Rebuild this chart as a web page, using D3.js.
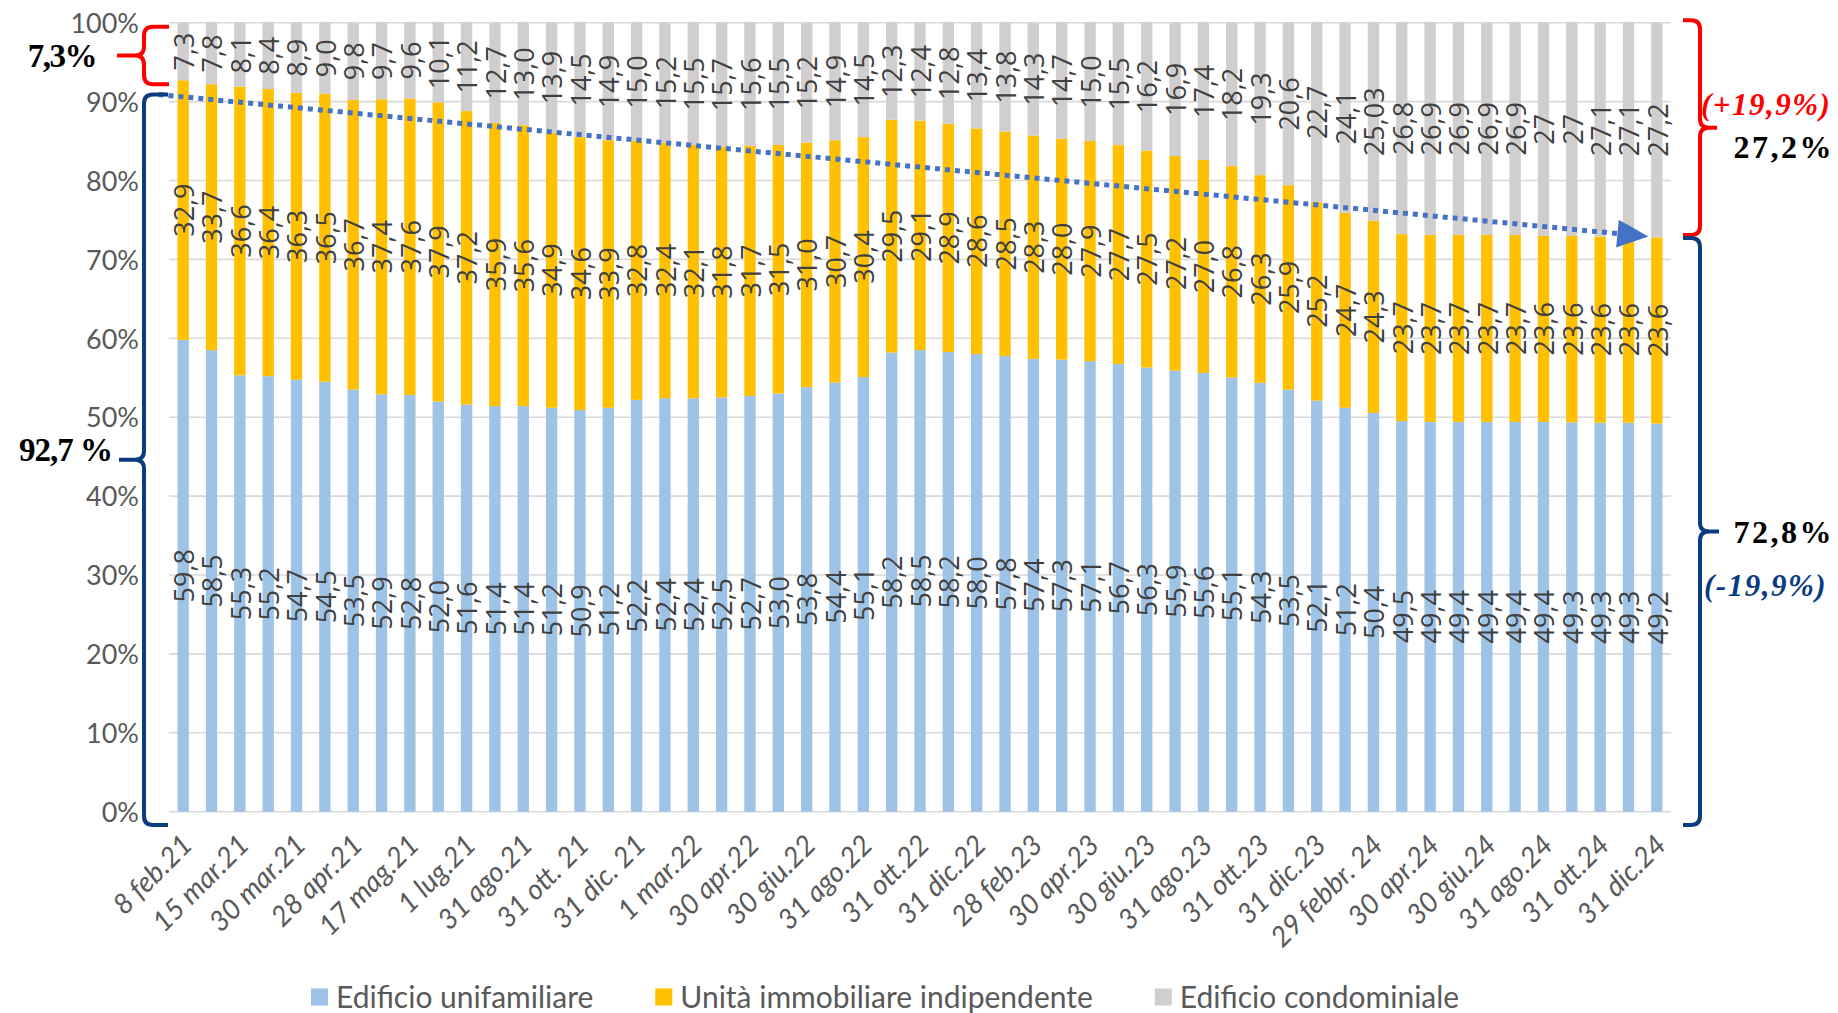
<!DOCTYPE html>
<html>
<head>
<meta charset="utf-8">
<script src="https://cdn.jsdelivr.net/npm/d3@7"></script>
<style>
  html, body { margin: 0; padding: 0; background: #fff; overflow: hidden; }
  svg { display: block; }
</style>
</head>
<body>
<svg id="chart" width="1838" height="1013"></svg>
<script>
// ---------------- DATA ----------------
const seriesNames = ["Edificio unifamiliare", "Unità immobiliare indipendente", "Edificio condominiale"];
const seriesColors = ["#9DC3E6", "#FFC000", "#D0CECE"];

// x-axis labels (one every two observations)
const tickLabels = ["8 feb.21","15 mar.21","30 mar.21","28 apr.21","17 mag.21","1 lug.21","31 ago.21",
  "31 ott. 21","31 dic. 21","1 mar.22","30 apr.22","30 giu.22","31 ago.22","31 ott.22","31 dic.22",
  "28 feb.23","30 apr.23","30 giu.23","31 ago.23","31 ott.23","31 dic.23","29 febbr. 24","30 apr.24",
  "30 giu.24","31 ago.24","31 ott.24","31 dic.24"];

const unifamiliare = [59.8,58.5,55.3,55.2,54.7,54.5,53.5,52.9,52.8,52.0,51.6,51.4,51.4,51.2,50.9,51.2,
  52.2,52.4,52.4,52.5,52.7,53.0,53.8,54.4,55.1,58.2,58.5,58.2,58.0,57.8,57.4,57.3,57.1,56.7,56.3,55.9,55.6,
  55.1,54.3,53.5,52.1,51.2,50.4,49.5,49.4,49.4,49.4,49.4,49.4,49.3,49.3,49.3,49.2];

const indipendente = [32.9,33.7,36.6,36.4,36.3,36.5,36.7,37.4,37.6,37.9,37.2,35.9,35.6,34.9,34.6,33.9,
  32.8,32.4,32.1,31.8,31.7,31.5,31.0,30.7,30.4,29.5,29.1,28.9,28.6,28.5,28.3,28.0,27.9,27.7,27.5,27.2,27.0,
  26.8,26.3,25.9,25.2,24.7,24.3,23.7,23.7,23.7,23.7,23.7,23.6,23.6,23.6,23.6,23.6];

const condominiale = [7.3,7.8,8.1,8.4,8.9,9.0,9.8,9.7,9.6,10.1,11.2,12.7,13.0,13.9,14.5,14.9,
  15.0,15.2,15.5,15.7,15.6,15.5,15.2,14.9,14.5,12.3,12.4,12.8,13.4,13.8,14.3,14.7,15.0,15.5,16.2,16.9,17.4,
  18.2,19.3,20.6,22.7,24.1,25.03,26.8,26.9,26.9,26.9,26.9,27,27,27.1,27.1,27.2];
// labels printed differently from one decimal in the source
const condominialeLabelOverrides = {42: "25,03", 48: "27", 49: "27"};

const yTicks = [0,0.1,0.2,0.3,0.4,0.5,0.6,0.7,0.8,0.9,1.0];

// annotation values (percent)
const startShare = {condo: 7.3, single: 92.7};
const endShare = {condo: 27.2, single: 72.8};
const deltaText = {up: "(+19,9%)", down: "(-19,9%)"};

// ---------------- CHART ----------------
const svg = d3.select("#chart");
const FONT = "Lato, 'Open Sans', sans-serif";
const LFONT = "'Open Sans', Lato, sans-serif";
const n = unifamiliare.length;
const rows = d3.range(n).map(i => ({i, s0: unifamiliare[i], s1: indipendente[i], s2: condominiale[i]}));
const stack = d3.stack().keys(["s0","s1","s2"]).offset(d3.stackOffsetExpand);
const stacked = stack(rows);

const x = d3.scaleBand().domain(d3.range(n)).range([169, 1671]).paddingInner(0.6).paddingOuter(0.3);
const y = d3.scaleLinear().domain([0, 1]).range([811.7, 22.7]);
const xc = i => x(0) + x.bandwidth() / 2 + i * x.step();   // continuous index -> px
const yp = v => y(v / 100);

// gridlines
svg.append("g").selectAll("line").data(yTicks).join("line")
  .attr("x1", 169).attr("x2", 1671)
  .attr("y1", d => y(d)).attr("y2", d => y(d))
  .attr("stroke", "#D9D9D9").attr("stroke-width", 1.6);

// y axis
const yAxis = d3.axisLeft(y).tickValues(yTicks).tickFormat(d3.format(".0%")).tickSize(0).tickPadding(0);
const gy = svg.append("g").attr("transform", "translate(139,0)").call(yAxis);
gy.select(".domain").remove();
gy.selectAll("text").attr("font-family", FONT).attr("font-size", 27).attr("fill", "#595959").attr("dy", "0.36em");

// bars
const layers = svg.append("g").selectAll("g").data(stacked).join("g")
  .attr("fill", (d, k) => seriesColors[k]);
layers.selectAll("rect").data(d => d).join("rect")
  .attr("x", d => x(d.data.i))
  .attr("width", x.bandwidth())
  .attr("y", d => y(d[1]))
  .attr("height", d => y(d[0]) - y(d[1]));

// dotted arrow
const a0 = {x: xc(-0.87), y: yp(90.9)};
const a1 = {x: xc(51.7), y: yp(72.9)};
const ang = Math.atan2(a1.y - a0.y, a1.x - a0.x);
const headLen = 31, headHalf = 14;
const base = {x: a1.x - headLen * Math.cos(ang), y: a1.y - headLen * Math.sin(ang)};
svg.append("line")
  .attr("x1", a0.x).attr("y1", a0.y).attr("x2", base.x).attr("y2", base.y)
  .attr("stroke", "#4472C4").attr("stroke-width", 5).attr("stroke-dasharray", "5 5");
svg.append("polygon")
  .attr("points", [
    [a1.x, a1.y],
    [base.x + headHalf * Math.sin(ang), base.y - headHalf * Math.cos(ang)],
    [base.x - headHalf * Math.sin(ang), base.y + headHalf * Math.cos(ang)]
  ].map(p => p.join(",")).join(" "))
  .attr("fill", "#4472C4");

// data labels
const fmt1 = v => d3.format(".1f")(v).replace(".", ",");
const labelText = (k, d) => {
  const i = d.data.i;
  if (k === 2 && condominialeLabelOverrides[i] !== undefined) return condominialeLabelOverrides[i];
  return fmt1([unifamiliare, indipendente, condominiale][k][i]);
};
stacked.forEach((layer, k) => {
  svg.append("g").selectAll("text").data(layer).join("text")
    .attr("transform", d => `translate(${x(d.data.i) + x.bandwidth() / 2 + 1},${(y(d[0]) + y(d[1])) / 2}) rotate(-90)`)
    .attr("text-anchor", "middle").attr("dy", "0.36em")
    .attr("font-family", LFONT).attr("font-size", 27).attr("fill", "#404040")
    .text(d => labelText(k, d));
});

// x axis labels
svg.append("g").selectAll("text").data(d3.range(0, n, 2)).join("text")
  .attr("transform", i => `translate(${x(i) + x.bandwidth() / 2 + 4},${y(0) + 28}) rotate(-45)`)
  .attr("text-anchor", "end").attr("dy", "0.35em")
  .attr("font-family", FONT).attr("font-size", 28).attr("font-style", "italic").attr("fill", "#595959")
  .text(i => tickLabels[i / 2]);

// braces
function brace(xLine, v1, v2, endX, tipX, color) {
  const yTop = yp(v1), yBot = yp(v2), yMid = (yTop + yBot) / 2, r = 9;
  const s = endX > xLine ? 1 : -1;
  const p = d3.path();
  p.moveTo(endX, yTop);
  p.lineTo(xLine + s * r, yTop);
  p.quadraticCurveTo(xLine, yTop, xLine, yTop + r);
  p.lineTo(xLine, yMid - r);
  p.quadraticCurveTo(xLine, yMid, xLine - s * r, yMid);
  p.lineTo(tipX, yMid);
  p.moveTo(xLine - s * r, yMid);
  p.quadraticCurveTo(xLine, yMid, xLine, yMid + r);
  p.lineTo(xLine, yBot - r);
  p.quadraticCurveTo(xLine, yBot, xLine + s * r, yBot);
  p.lineTo(endX, yBot);
  svg.append("path").attr("d", p.toString()).attr("fill", "none")
    .attr("stroke", color).attr("stroke-width", 4).attr("stroke-linejoin", "round");
  return yMid;
}
const RED = "#FF0000", NAVY = "#0A3D7F";
const BFONT = "'Liberation Serif', 'DejaVu Serif', serif";
const pct = v => d3.format(".1f")(v).replace(".", ",");

const m1 = brace(144, 99.5, 92.2, 169, 117, RED);
const m2 = brace(144, 90.9, -1.7, 168, 119, NAVY);
const m3 = brace(1700, 100.3, 73.1, 1683, 1717, RED);
const m4 = brace(1700, 72.7, -1.7, 1683, 1719, NAVY);

svg.append("text").attr("x", 96).attr("y", m1).attr("dy", "0.35em").attr("text-anchor", "end")
  .attr("font-family", BFONT).attr("font-weight", "bold").attr("font-size", 33).attr("letter-spacing", -1.5)
  .attr("fill", "#000").text(pct(startShare.condo) + "%");
svg.append("text").attr("x", 112).attr("y", m2 - 10).attr("dy", "0.35em").attr("text-anchor", "end")
  .attr("font-family", BFONT).attr("font-weight", "bold").attr("font-size", 33).attr("letter-spacing", -1)
  .attr("fill", "#000").text(pct(startShare.single) + " %");

svg.append("text").attr("x", 1701).attr("y", yp(89.7)).attr("dy", "0.35em")
  .attr("font-family", BFONT).attr("font-weight", "bold").attr("font-style", "italic").attr("font-size", 31)
  .attr("letter-spacing", 1.5).attr("fill", RED).text(deltaText.up);
svg.append("text").attr("x", 1834).attr("y", yp(84.3)).attr("dy", "0.35em").attr("text-anchor", "end")
  .attr("font-family", BFONT).attr("font-weight", "bold").attr("font-size", 32).attr("letter-spacing", 2.5)
  .attr("fill", "#000").text(pct(endShare.condo) + "%");
svg.append("text").attr("x", 1834).attr("y", m4).attr("dy", "0.35em").attr("text-anchor", "end")
  .attr("font-family", BFONT).attr("font-weight", "bold").attr("font-size", 32).attr("letter-spacing", 2.5)
  .attr("fill", "#000").text(pct(endShare.single) + "%");
svg.append("text").attr("x", 1704).attr("y", yp(28.7)).attr("dy", "0.35em")
  .attr("font-family", BFONT).attr("font-weight", "bold").attr("font-style", "italic").attr("font-size", 31)
  .attr("letter-spacing", 1.5).attr("fill", NAVY).text(deltaText.down);

// legend
const legend = svg.append("g");
let lx = 311;
seriesNames.forEach((name, k) => {
  const g = legend.append("g").attr("transform", `translate(${lx},997)`);
  g.append("rect").attr("x", 0).attr("y", -8.5).attr("width", 17).attr("height", 17).attr("fill", seriesColors[k]);
  const t = g.append("text").attr("x", 25).attr("y", 0).attr("dy", "0.35em")
    .attr("font-family", FONT).attr("font-size", 30).attr("fill", "#595959").text(name);
  lx += 25 + t.node().getComputedTextLength() + 62;
});
</script>
</body>
</html>
